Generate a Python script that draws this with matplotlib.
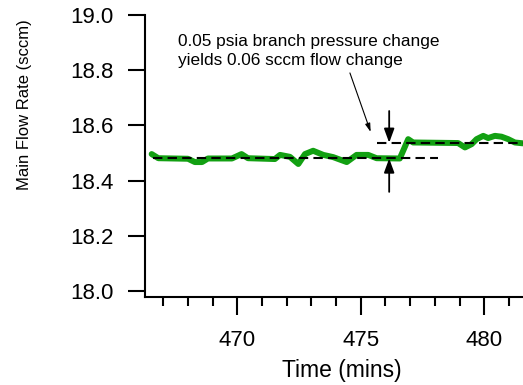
import matplotlib
matplotlib.use("Agg")
import matplotlib.pyplot as plt
from matplotlib.ticker import MultipleLocator, FormatStrFormatter

plt.rcParams["font.family"] = ["Liberation Sans", "DejaVu Sans"]

# 데이터
time_min = [466.53, 466.80, 468.00, 468.28, 468.57, 468.81, 469.78, 470.17, 470.43,
            471.52, 471.73, 472.13, 472.47, 472.74, 473.07, 473.48, 473.88, 474.43,
            474.83, 475.30, 475.64, 476.58, 476.92, 477.12, 478.94, 479.22, 479.49,
            479.69, 479.96, 480.16, 480.43, 480.70, 480.97, 481.24, 481.56]
flow_sccm = [18.496, 18.481, 18.479, 18.467, 18.467, 18.480, 18.480, 18.496, 18.481,
             18.478, 18.493, 18.486, 18.460, 18.496, 18.508, 18.493, 18.485, 18.467,
             18.493, 18.493, 18.481, 18.480, 18.550, 18.538, 18.536, 18.520, 18.532,
             18.550, 18.562, 18.554, 18.562, 18.559, 18.550, 18.538, 18.535]

level_before = 18.48
level_after = 18.537
before_span = [466.58, 478.12]
after_span = [475.64, 481.6]
step_time = 476.15

y_ticks = [18.0, 18.2, 18.4, 18.6, 18.8, 19.0]
note = "0.05 psia branch pressure change\nyields 0.06 sccm flow change"

fig = plt.figure(figsize=(5.23, 3.85), dpi=100)
ax = fig.add_axes([145 / 523, 1 - 297 / 385, 378 / 523, 282 / 385])

ax.plot(time_min, flow_sccm, color="#12a012", lw=4.3,
        solid_joinstyle="round", solid_capstyle="round", zorder=2)
ax.plot(before_span, [level_before] * 2, color="black", lw=1.5,
        dashes=(4.5, 2.5), zorder=3)
ax.plot(after_span, [level_after] * 2, color="black", lw=1.5,
        dashes=(4.5, 2.5), zorder=3)

head = dict(arrowstyle="-|>,head_length=0.6,head_width=0.22", color="black",
            lw=1.3, mutation_scale=14, shrinkA=0, shrinkB=0)
ax.annotate("", xy=(step_time, level_after), xytext=(step_time, 18.652),
            arrowprops=head, annotation_clip=False)
ax.annotate("", xy=(step_time, level_before), xytext=(step_time, 18.359),
            arrowprops=head, annotation_clip=False)
ax.annotate("", xy=(475.40, 18.576), xytext=(474.56, 18.790),
            arrowprops=dict(arrowstyle="-|>,head_length=0.5,head_width=0.15",
                            color="black", lw=0.8, mutation_scale=10,
                            shrinkA=0, shrinkB=0))
ax.text(467.60, 18.870, note, fontsize=12.4, va="center", ha="left",
        linespacing=1.32)

ax.set_xlim(466.26, 481.57)
ax.set_ylim(17.978, 19.0)
ax.set_yticks(y_ticks)
ax.yaxis.set_major_formatter(FormatStrFormatter("%.1f"))
ax.xaxis.set_major_locator(MultipleLocator(5))
ax.xaxis.set_minor_locator(MultipleLocator(1))

for side in ("top", "right"):
    ax.spines[side].set_visible(False)
for side in ("left", "bottom"):
    ax.spines[side].set_linewidth(1.5)

ax.tick_params(axis="both", which="major", width=1.5, labelsize=16)
ax.tick_params(axis="y", length=12.5, pad=10)
ax.tick_params(axis="x", which="major", length=13, pad=11)
ax.tick_params(axis="x", which="minor", length=6.5, width=1.5)

ax.set_xlabel("Time (mins)", fontsize=16.5)
ax.set_ylabel("Main Flow Rate (sccm)", fontsize=12)
ax.xaxis.set_label_coords((342 - 145) / 378, -(370 - 297) / 282)
ax.yaxis.set_label_coords(-(145 - 25) / 378, (297 - 105) / 282)
ax.xaxis.label.set_va("center")
ax.yaxis.label.set_va("center")

fig.savefig("out.png", dpi=100)
